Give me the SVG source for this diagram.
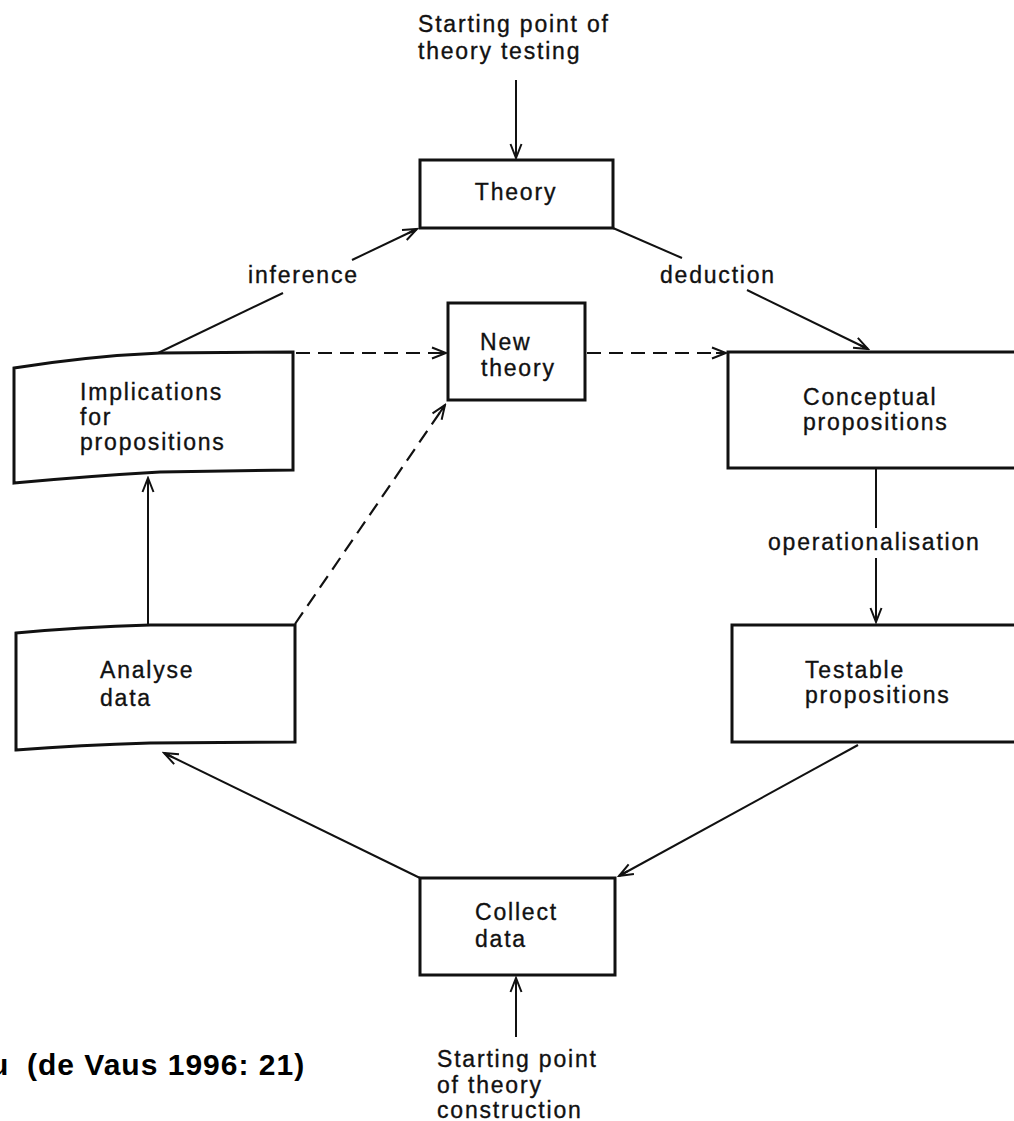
<svg xmlns="http://www.w3.org/2000/svg" width="1014" height="1121" viewBox="0 0 1014 1121">
<style>
.box{fill:#fff;stroke:#111;stroke-width:3;stroke-linejoin:miter}
.t{font-family:"Liberation Sans",Arial,sans-serif;font-size:23px;letter-spacing:1.8px;fill:#111;stroke:#111;stroke-width:0.35}
.c{fill:none;stroke:#111;stroke-width:2}
.d{fill:none;stroke:#111;stroke-width:2.2;stroke-dasharray:14 8}
.cap{font-family:"Liberation Sans",Arial,sans-serif;font-size:30px;font-weight:bold;letter-spacing:1px;fill:#000}
</style>
<defs>
<marker id="arr" viewBox="-16 -8 18 16" markerWidth="18" markerHeight="16" refX="0" refY="0" orient="auto" markerUnits="userSpaceOnUse">
<path d="M-14,-5.5 L0,0 L-14,5.5 M-10,0 L0,0" fill="none" stroke="#111" stroke-width="2" stroke-dasharray="none"/>
</marker>
</defs>
<rect width="1014" height="1121" fill="#fff"/>

<g id="connectors">
<line class="c" x1="516" y1="80" x2="516" y2="158" marker-end="url(#arr)"/>
<line class="c" x1="158" y1="353" x2="283" y2="293"/>
<line class="c" x1="352" y1="260" x2="417" y2="229" marker-end="url(#arr)"/>
<line class="c" x1="613" y1="228" x2="682" y2="258"/>
<line class="c" x1="747" y1="290" x2="868" y2="349" marker-end="url(#arr)"/>
<line class="c" x1="876" y1="468" x2="876" y2="528"/>
<line class="c" x1="876" y1="558" x2="876" y2="622" marker-end="url(#arr)"/>
<line class="c" x1="858" y1="745" x2="619" y2="876" marker-end="url(#arr)"/>
<line class="c" x1="420" y1="878" x2="164" y2="753" marker-end="url(#arr)"/>
<line class="c" x1="516" y1="1037" x2="516" y2="978" marker-end="url(#arr)"/>
<line class="c" x1="148" y1="629" x2="148" y2="478" marker-end="url(#arr)"/>
<line class="d" x1="296" y1="353" x2="446" y2="353" marker-end="url(#arr)"/>
<line class="d" x1="587" y1="353" x2="726" y2="353" marker-end="url(#arr)"/>
<line class="d" x1="295" y1="624" x2="445" y2="405" marker-end="url(#arr)"/>
<text class="t" x="248" y="283">inference</text>
<text class="t" x="660" y="283">deduction</text>
<text class="t" x="768" y="550">operationalisation</text>
</g>

<g id="start-testing">
<text class="t" x="418" y="32">Starting point of</text>
<text class="t" x="418" y="59">theory testing</text>
</g>

<g id="theory">
<rect class="box" x="420" y="160" width="193" height="68"/>
<text class="t" x="516" y="200" text-anchor="middle">Theory</text>
</g>

<g id="new-theory">
<rect class="box" x="448" y="303" width="137" height="97"/>
<text class="t" x="480" y="350">New</text>
<text class="t" x="481" y="376">theory</text>
</g>

<g id="implications">
<path class="box" d="M14,368 Q90,356 160,353 L293,352 L293,470 L160,472 Q90,476 14,483 Z"/>
<text class="t" x="80" y="400">Implications</text>
<text class="t" x="80" y="425">for</text>
<text class="t" x="80" y="450">propositions</text>
</g>

<g id="analyse">
<path class="box" d="M16,633 Q80,627 150,625 L295,625 L295,742 L150,743 Q80,745 16,750 Z"/>
<text class="t" x="100" y="678">Analyse</text>
<text class="t" x="100" y="706">data</text>
</g>

<g id="conceptual">
<rect class="box" x="728" y="352" width="310" height="116"/>
<text class="t" x="803" y="405">Conceptual</text>
<text class="t" x="803" y="430">propositions</text>
</g>

<g id="testable">
<rect class="box" x="732" y="625" width="310" height="117"/>
<text class="t" x="805" y="678">Testable</text>
<text class="t" x="805" y="703">propositions</text>
</g>

<g id="collect">
<rect class="box" x="420" y="878" width="195" height="97"/>
<text class="t" x="475" y="920">Collect</text>
<text class="t" x="475" y="947">data</text>
</g>

<g id="start-construction">
<text class="t" x="437" y="1067">Starting point</text>
<text class="t" x="437" y="1093">of theory</text>
<text class="t" x="437" y="1118">construction</text>
</g>

<g id="caption">
<text class="cap" y="1075"><tspan x="-10">u</tspan><tspan x="27">(de Vaus 1996: 21)</tspan></text>
</g>
</svg>
